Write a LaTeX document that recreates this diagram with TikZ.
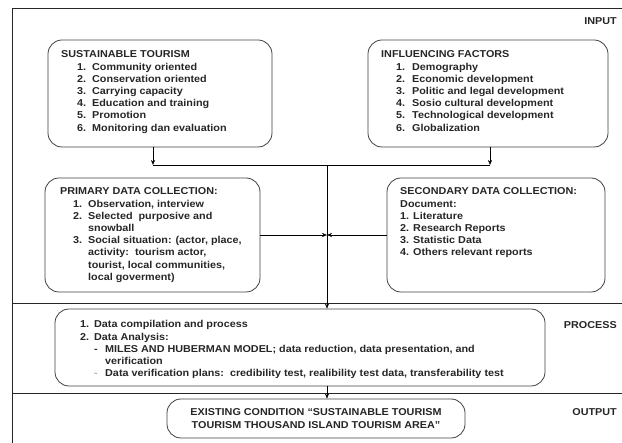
\documentclass[tikz,border=0pt]{standalone}
\usepackage{fontspec}
\newfontfamily\dgfont{Liberation Sans}[FakeStretch=1.08]
\usepackage{tikz}
\usetikzlibrary{arrows.meta,positioning,calc}
\newlength{\lind}
\newlength{\lnum}
\newcommand{\li}[1]{\hspace*{\lind}\makebox[\lnum][l]{#1}}

\begin{document}
\begin{tikzpicture}[x=1pt,y=-1pt,font=\fontsize{10}{12.2}\dgfont\bfseries,
  text=black!85,>={Stealth[length=5pt,width=4pt]}]
  \useasboundingbox (0,0) rectangle (622,443);
  \tikzset{box/.style={draw=black!75,line width=0.8pt,rounded corners=14pt,inner sep=0pt},
    txt/.style={anchor=base west,inner sep=0pt},
    sep/.style={draw=black!85,line width=0.9pt},
    tag/.style={anchor=base east,inner sep=0pt}}
  % frame and stage lines
  \coordinate (tl) at (12,8);
  \draw[sep] (622,8) -- (tl) -- (12,443);
  \draw[sep] (12,303) -- (622,303);
  \draw[sep] (12,393) -- (622,393);
  \node[tag] (lin) at (617,25) {INPUT};
  \node[tag] (lproc) at (617,329) {PROCESS};
  \node[tag] (lout) at (617,416) {OUTPUT};

  % input boxes
  \node[box,minimum width=224pt,minimum height=107pt] (st) at (160,93.5) {};
  \node[txt] at (61,58) {\setlength\lind{16pt}\setlength\lnum{15pt}%
    \begin{tabular}[t]{@{}l@{}}
      SUSTAINABLE TOURISM\\
      \li{1.}Community oriented\\
      \li{2.}Conservation oriented\\
      \li{3.}Carrying capacity\\
      \li{4.}Education and training\\
      \li{5.}Promotion\\
      \li{6.}Monitoring dan evaluation
    \end{tabular}};
  \node[box,minimum width=240pt,minimum height=107pt] (inf) at (488,93.5) {};
  \node[txt] at (381,58) {\setlength\lind{15pt}\setlength\lnum{16pt}%
    \begin{tabular}[t]{@{}l@{}}
      INFLUENCING FACTORS\\
      \li{1.}Demography\\
      \li{2.}Economic development\\
      \li{3.}Politic and legal development\\
      \li{4.}Sosio cultural development\\
      \li{5.}Technological development\\
      \li{6.}Globalization
    \end{tabular}};

  % data collection boxes
  \node[box,minimum width=215pt,minimum height=114pt] (pdc) at (152.5,235) {};
  \node[txt] at (60,195) {\setlength\lind{13pt}\setlength\lnum{15pt}%
    \begin{tabular}[t]{@{}l@{}}
      PRIMARY DATA COLLECTION:\\
      \li{1.}Observation, interview\\
      \li{2.}Selected\ \ purposive and\\
      \li{}snowball\\
      \li{3.}Social situation: (actor, place,\\
      \li{}activity:\ \ tourism actor,\\
      \li{}tourist, local communities,\\
      \li{}local goverment)
    \end{tabular}};
  \node[box,minimum width=218pt,minimum height=114pt] (sdc) at (496,235) {};
  \node[txt] at (400,195) {%
    \begin{tabular}[t]{@{}l@{}}
      SECONDARY DATA COLLECTION:\\
      Document:\\
      1. Literature\\
      2. Research Reports\\
      3. Statistic Data\\
      4. Others relevant reports
    \end{tabular}};

  % process and output
  \node[box,minimum width=490pt,minimum height=77pt] (proc) at (300,347.5) {};
  \node[txt] at (80,328) {\setlength\lind{0pt}\setlength\lnum{14pt}%
    \begin{tabular}[t]{@{}l@{}}
      \li{1.}Data compilation and process\\
      \li{2.}Data Analysis:\\
      \hspace*{14pt}\makebox[11pt][l]{-}MILES AND HUBERMAN MODEL; data reduction, data presentation, and\\
      \hspace*{25pt}verification\\
      \hspace*{14pt}\makebox[11pt][l]{\textcolor{black!30}{-}}Data verification plans:\ \ credibility test, realibility test data, transferability test
    \end{tabular}};
  \node[box,minimum width=298pt,minimum height=39pt,align=center] (out) at (316,418.5)
    {EXISTING CONDITION “SUSTAINABLE TOURISM\\TOURISM THOUSAND ISLAND TOURISM AREA”};

  % connectors
  \coordinate (jl) at (153,165);
  \coordinate (jr) at (490,165);
  \coordinate (jc) at (327,165);
  \draw[->] (st.south -| jl) -- (jl);
  \draw[->] (inf.south -| jr) -- (jr);
  \draw (jl) -- (jr);
  \draw[->] (jc) -- (jc |- proc.north);
  \draw[->] (pdc.east) -- (pdc.east -| jc);
  \draw[->] (sdc.west) -- (sdc.west -| jc);
  \draw[->] (proc.south -| jc) -- (out.north -| jc);
\end{tikzpicture}
\end{document}
